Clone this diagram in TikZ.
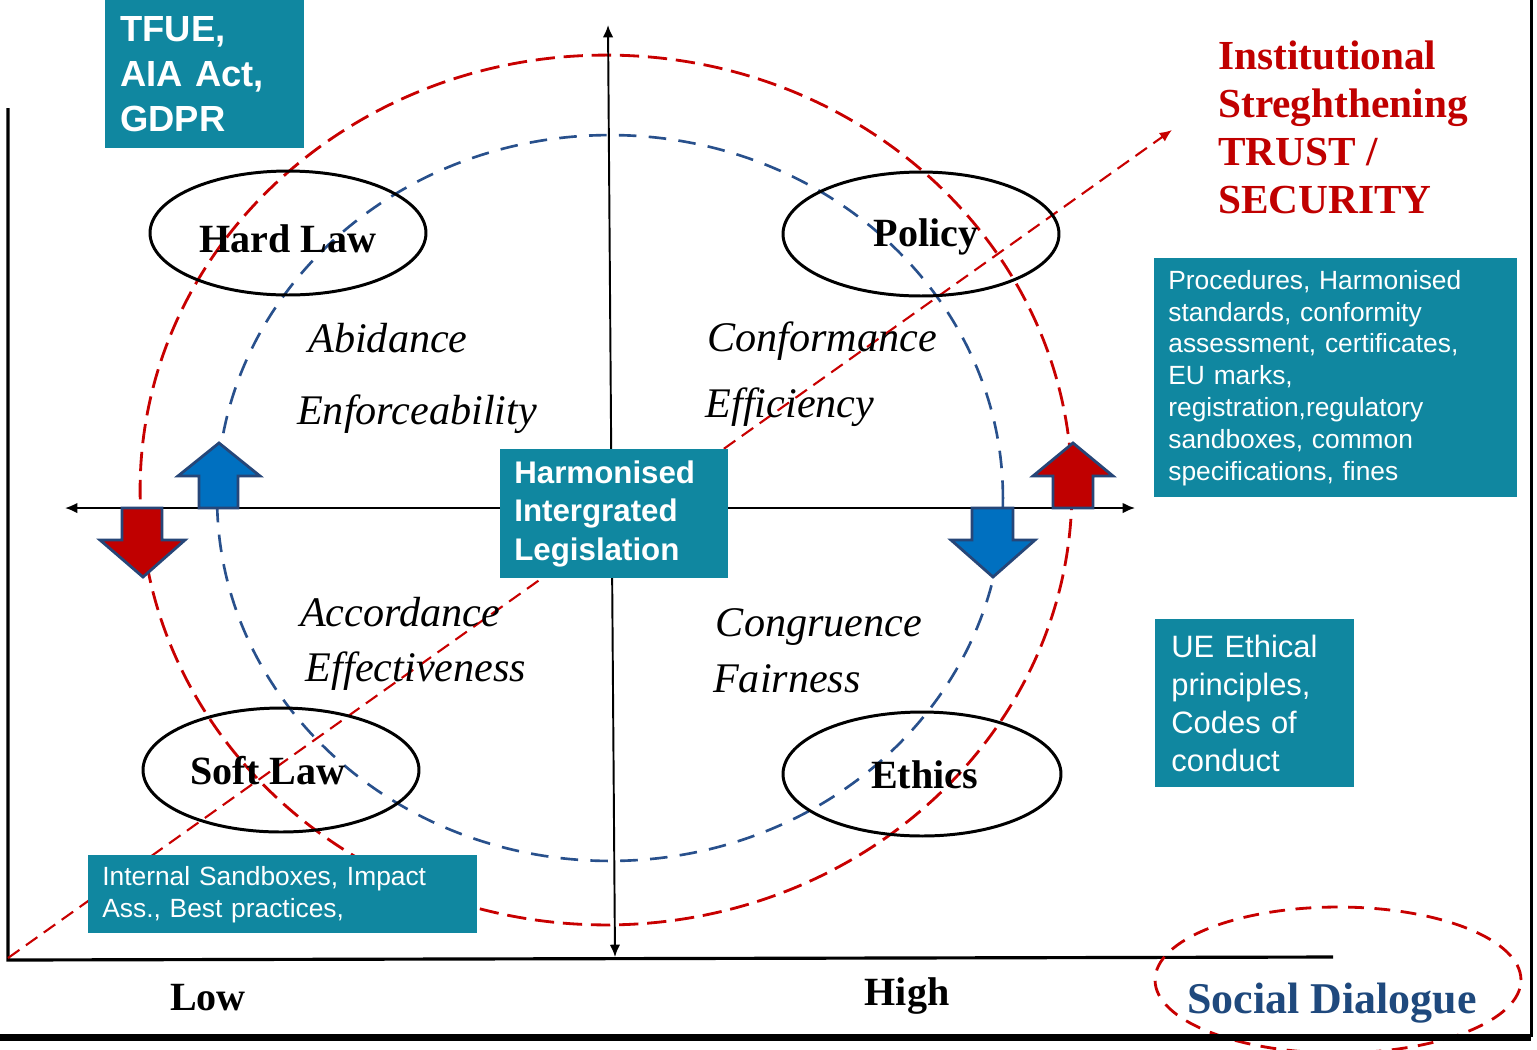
\documentclass[tikz,border=0pt]{standalone}
\usepackage{fontspec}
\setmainfont{Liberation Serif}
\setsansfont{Liberation Sans}
\usetikzlibrary{arrows.meta,shapes.geometric}
\definecolor{tealbox}{RGB}{16,135,160}
\definecolor{dred}{RGB}{200,0,0}
\definecolor{arrred}{RGB}{192,0,0}
\definecolor{dblue}{RGB}{40,80,140}
\definecolor{arrblue}{RGB}{0,112,192}
\definecolor{navy}{RGB}{31,73,125}
\definecolor{edgeblue}{RGB}{38,70,120}
\tikzset{
  tbox/.style={fill=tealbox, draw=none, anchor=north west, inner ysep=0pt, text=white, align=left},
  lawell/.style={ellipse, draw=black, line width=1.7pt, minimum width=5.52cm, minimum height=2.48cm, inner sep=0pt, text height=0.8cm, text depth=0.03cm, font=\bfseries\fontsize{22.8pt}{26pt}\selectfont},
  quality/.style={inner sep=0pt, font=\itshape\fontsize{24pt}{28pt}\selectfont},
  reddash/.style={draw=dred, line width=1.6pt, dash pattern=on 11pt off 5pt},
  bluedash/.style={draw=dblue, line width=1.5pt, dash pattern=on 10pt off 7pt},
  diag/.style={draw=dred, line width=1.2pt, dash pattern=on 8pt off 4.5pt},
  axis/.style={draw=black, line width=1.8pt},
  dblarrow/.style={draw=black, line width=1.1pt, {Latex[length=7pt,width=6pt]}-{Latex[length=7pt,width=6pt]}},
  blockred/.style={fill=arrred, draw=edgeblue, line width=1.6pt, line join=miter},
  blockblue/.style={fill=arrblue, draw=edgeblue, line width=1.6pt, line join=miter},
  axlabel/.style={inner sep=0pt, font=\bfseries\fontsize{22.8pt}{26pt}\selectfont}
}
\begin{document}
\begin{tikzpicture}[x=0.02cm,y=-0.02cm]
\useasboundingbox (0,0) rectangle (1537,1049);
\fill[white] (0,0) rectangle (1537,1049);

% dashed circles
\draw[reddash] (606,490) ellipse [x radius=9.32cm, y radius=8.7cm];
\draw[bluedash] (610,498) ellipse [x radius=7.86cm, y radius=7.26cm];

% axes
\coordinate (ytop) at (8,108);
\coordinate (orig) at (8,960);
\coordinate (xend) at (1333,957);
\draw[axis] (ytop) -- (orig) -- (xend);

\coordinate (vtop) at (608,25);
\coordinate (vbot) at (615,957);
\draw[dblarrow] (vbot) -- (vtop);
\coordinate (hl) at (65,508);
\coordinate (hr) at (1135,508);
\draw[dblarrow] (hl) -- (hr);

% diagonal
\coordinate (dstart) at (8,958);
\coordinate (dend) at (1172,130);
\draw[diag, -{Latex[length=7pt,width=6pt]}] (dstart) -- (dend);

% ellipses
\node[lawell] (hard) at (288,233) {Hard Law};
\node[lawell, text height=0.54cm] (policy) at (921,234) {\hspace*{0.2cm}Policy};
\node[lawell, text height=0.62cm] (soft) at (281,770) {\hspace*{-0.52cm}Soft Law};
\node[lawell, text height=0.6cm, minimum width=5.56cm] (ethics) at (922,774) {\hspace*{0.1cm}Ethics};

% quality words
\node[quality] (abid) at (388,338) {Abidance};
\node[quality] (enf) at (417,414) {Enforceability};
\node[quality] (conf) at (822,341) {Conformance};
\node[quality] (effi) at (790,407) {Efficiency};
\node[quality] (acc) at (400,612) {Accordance};
\node[quality] (eff) at (416,671) {Effectiveness};
\node[quality] (cong) at (819,627) {Congruence};
\node[quality] (fair) at (787,679) {Fairness};

% block arrows
\draw[blockred] (122,508) -- (162,508) -- (162,540) -- (185,540) -- (143,577) -- (100,540) -- (122,540) -- cycle;
\draw[blockblue] (199,508) -- (238,508) -- (238,476) -- (260,476) -- (219,443) -- (178,476) -- (199,476) -- cycle;
\draw[blockblue] (972,508) -- (1013,508) -- (1013,540) -- (1035,540) -- (993,577) -- (951,540) -- (972,540) -- cycle;
\draw[blockred] (1053,508) -- (1093,508) -- (1093,476) -- (1113,476) -- (1073,443) -- (1033,476) -- (1053,476) -- cycle;

% teal boxes
\node[tbox, text width=3.38cm, inner xsep=0.3cm, minimum height=2.96cm,
  font=\sffamily\bfseries\fontsize{20.7pt}{25.5pt}\selectfont] (tfue) at (105,0)
  {TFUE,\\AIA Act,\\GDPR};
\node[tbox, text width=4.0cm, inner xsep=0.28cm, minimum height=2.58cm,
  font=\sffamily\bfseries\fontsize{17.8pt}{21.9pt}\selectfont] (harm) at (500,449)
  {Harmonised\\Intergrated\\Legislation};
\node[tbox, text width=6.7cm, inner xsep=0.28cm, minimum height=4.78cm,
  font=\sffamily\fontsize{15pt}{18.1pt}\selectfont] (proc) at (1154,258)
  {Procedures, Harmonised\\standards, conformity\\assessment, certificates,\\EU marks,\\registration,regulatory\\sandboxes, common\\specifications, fines};
\node[tbox, text width=3.34cm, inner xsep=0.32cm, minimum height=3.36cm,
  font=\sffamily\fontsize{17.6pt}{21.5pt}\selectfont] (ue) at (1155,619)
  {UE Ethical\\principles,\\Codes of\\conduct};
\node[tbox, text width=7.22cm, inner xsep=0.28cm, minimum height=1.56cm,
  font=\sffamily\fontsize{15pt}{18.1pt}\selectfont] (internal) at (88,855)
  {Internal Sandboxes, Impact\\Ass., Best practices,};

% red title
\node[anchor=west, inner sep=0pt, align=left, text=arrred,
  font=\bfseries\fontsize{23.5pt}{27.3pt}\selectfont] (inst) at (1218,127)
  {Institutional\\Streghthening\\TRUST /\\SECURITY};

% axis labels
\node[axlabel] (low) at (208,998) {Low};
\node[axlabel] (high) at (907,996) {High};

% social dialogue
\node[inner sep=0pt, text=navy, font=\bfseries\fontsize{25pt}{29pt}\selectfont] (social) at (1332,1003) {Social Dialogue};
\draw[draw=dred, line width=1.6pt, dash pattern=on 9pt off 6pt] (1338,980) ellipse [x radius=3.66cm, y radius=1.46cm];

% frame
\coordinate (fbl) at (0,1037);
\coordinate (fbr) at (1531,1037);
\coordinate (ftr) at (1531,0);
\draw[line width=4pt] (fbl) -- (fbr);
\draw[line width=1.7pt] (fbr) -- (ftr);
\end{tikzpicture}
\end{document}
